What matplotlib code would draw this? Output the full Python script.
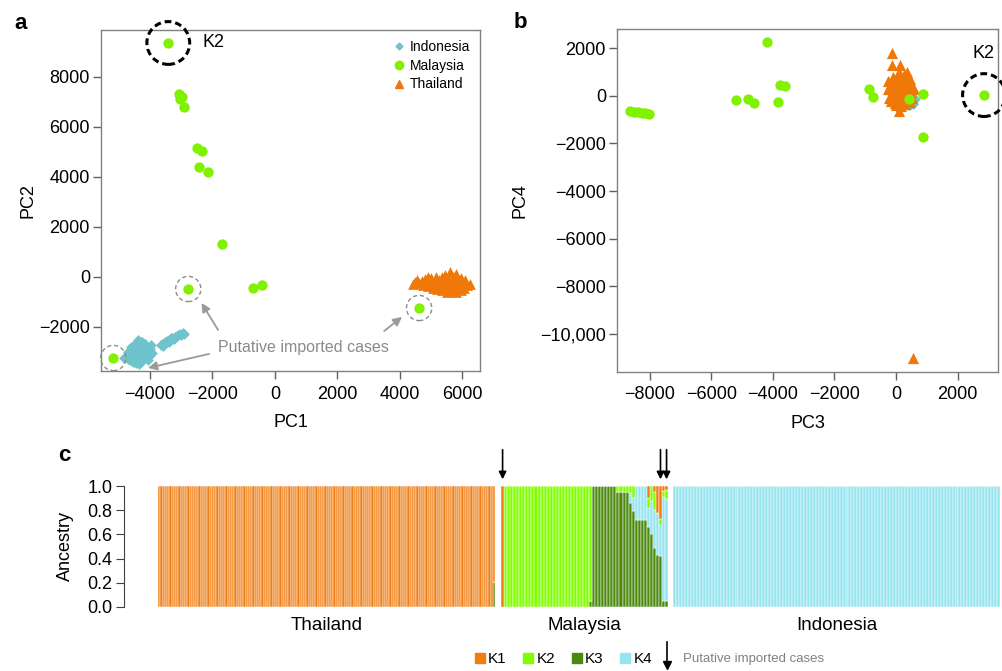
import matplotlib
matplotlib.use('Agg')
import matplotlib.pyplot as plt
from matplotlib.lines import Line2D
from matplotlib.ticker import FuncFormatter

plt.rcParams['font.family'] = ['Liberation Sans', 'DejaVu Sans']

# colours
c_ind = '#6EC3CC'
c_mal = '#80F200'
c_tha = '#F07808'
k_cols = ['#F07D12', '#80FF00', '#4B8A0E', '#95E4EF']

# ---- panel a: PC1 / PC2 ----
ind_pc1 = [-4820, -4750, -4700, -4650, -4600, -4550, -4500, -4500, -4450, -4400, -4400, -4350,
           -4350, -4300, -4300, -4250, -4250, -4200, -4200, -4150, -4150, -4100, -4050, -4000,
           -3950, -4380, -4300, -4480, -4600, -4700, -4650, -4550, -4100, -4000, -4450, -4350,
           -4250, -4150, -4050, -4500, -4400, -4300, -4200, -3980, -4700, -4600,
           -3640, -3600, -3560, -3520, -3480, -3440, -3400, -3360, -3320, -3280, -3200, -3150,
           -3100, -3050, -3000, -2950, -2900, -3580, -3380, -3240]
ind_pc2 = [-3250, -3150, -3300, -3050, -3200, -2950, -3100, -3350, -2800, -3000, -3250, -2650,
           -2900, -3150, -3400, -2750, -3000, -2850, -3250, -2950, -3100, -2800, -3000, -2900,
           -3050, -2550, -2600, -2700, -2900, -3000, -3350, -3400, -3200, -3150, -3450, -3480,
           -2600, -2700, -3350, -3300, -2700, -2800, -3100, -2750, -3150, -2800,
           -2730, -2680, -2700, -2620, -2600, -2560, -2520, -2550, -2470, -2440, -2400, -2380,
           -2330, -2300, -2330, -2260, -2280, -2760, -2600, -2480]

mal_pc1 = [-3414, -3062, -2966, -3030, -2902, -2486, -2326, -2422, -2134, -1686, -694, -406,
           -2774, 4618, -5174]
mal_pc2 = [9348, 7308, 7188, 7108, 6788, 5148, 5028, 4388, 4188, 1308, -452, -332,
           -492, -1252, -3252]

tha_pc1 = [4420, 4500, 4560, 4620, 4700, 4750, 4800, 4850, 4900, 4950, 5000, 5000, 5050, 5100,
           5150, 5150, 5200, 5250, 5300, 5350, 5350, 5400, 5450, 5450, 5500, 5550, 5600, 5600,
           5650, 5700, 5700, 5750, 5800, 5800, 5850, 5900, 5950, 5950, 6000, 6050, 6100, 6150,
           6250, 5250, 4900, 5550]
tha_pc2 = [-280, -200, -120, -250, -180, -320, -100, -250, -380, -150, -50, -300, -450, -200,
           -30, -350, -500, -150, -400, -20, -550, -250, 60, -450, -600, -150, -350, 190,
           -550, 0, -250, -450, 100, -600, -150, -350, -50, -550, -250, -450, -150, -350,
           -300, -300, -30, -450]

# ---- panel b: PC3 / PC4 ----
ind_pc3 = [250, 300, 350, 400, 450, 500, 550, 600, 500, 420, 380, 560]
ind_pc4 = [-200, -300, -350, -250, -400, -300, -200, -150, -100, -150, -400, -350]

mal_pc3 = [-8627, -8519, -8389, -8248, -8140, -8021, -4194, -5211, -4821, -4605, -3838, -3784,
           -3600, -865, -735, 886, 886, 2854, 432]
mal_pc4 = [-629, -671, -699, -713, -741, -769, 2266, -182, -154, -322, -252, 448,
           406, 280, -42, 56, -1720, 28, -154]

tha_pc3 = [-119, -119, 130, 368, 97, 562, -250, -200, -180, -150, -100, -80, -50, -30, 0, 20,
           50, 60, 80, 100, 120, 150, 180, 200, 220, 250, 270, 300, 320, 350, 380, 400, 420,
           450, 480, 500, 520, -220, -260, 0, 150, 300, 100, -150, 200, 350, 250, -50, 450, 580]
tha_pc4 = [1777, 1287, 1287, 1007, -643, -11024, 600, 300, 0, -200, 800, 450, 150, -300, 650,
           350, 0, -150, 900, 500, 200, -300, 700, 400, 50, -200, 850, 550, 250, -100, 650,
           300, 0, -250, 500, 150, -100, -100, 300, -400, -450, -350, 1000, 500, -50, 100,
           750, -100, 700, 300]

# ---- panel c: ancestry proportions (K1..K4) ----
groups = ['Thailand', 'Malaysia', 'Indonesia']
tha_k1 = [1.0] * 149 + [0.79]
tha_k2 = [0.0] * 150
tha_k3 = [0.0] * 149 + [0.21]
tha_k4 = [0.0] * 150

mal_k1 = [1.0] + [0] * 29 + [0] * 8 + [0] * 4 + [0, 0] + [0] * 4 + [0.10, 0.0, 0.05, 0.22, 0.27, 0.04, 0.03]
mal_k2 = [0] + [1.0] * 28 + [0.95] + [0] * 8 + [0.05] * 4 + [0.06, 0.10] + [0] * 4 + [0.08, 0.12, 0.15, 0.0, 0.05, 0.05, 0.08]
mal_k3 = [0] + [0] * 28 + [0.05] + [1.0] * 8 + [0.95] * 4 + [0.86, 0.79] + [0.72] * 4 + [0.66, 0.60, 0.49, 0.43, 0.42, 0.05, 0.05]
mal_k4 = [0] + [0] * 29 + [0] * 8 + [0] * 4 + [0.08, 0.11] + [0.28] * 4 + [0.16, 0.28, 0.31, 0.35, 0.26, 0.86, 0.84]

ind_k1 = [0.0] * 110
ind_k2 = [0.0] * 110
ind_k3 = [0.0] * 110
ind_k4 = [1.0] * 110

imported_mal = [0, 52, 54]  # putative imported cases (Malaysia bar indices)


def fmt(v, pos):
    s = f'{int(round(v)):,}' if abs(v) >= 10000 else f'{int(round(v))}'
    return s.replace('-', '\u2212')


fig = plt.figure(figsize=(10.02, 6.71), dpi=100)


def style_pc(ax):
    for sp in ax.spines.values():
        sp.set_color('#808080')
        sp.set_linewidth(1.0)
    ax.tick_params(direction='out', length=5.5, width=1, color='#606060', labelsize=13)
    ax.tick_params(axis='x', pad=5)
    ax.tick_params(axis='y', pad=2.5)
    ax.xaxis.set_major_formatter(FuncFormatter(fmt))
    ax.yaxis.set_major_formatter(FuncFormatter(fmt))


# panel a
axa = fig.add_axes([0.1008, 0.4471, 0.3782, 0.5082])
axa.scatter(ind_pc1, ind_pc2, marker='D', s=30, color=c_ind, lw=0, zorder=2)
axa.scatter(tha_pc1, tha_pc2, marker='^', s=60, color=c_tha, lw=0, zorder=2)
axa.scatter(mal_pc1, mal_pc2, marker='o', s=55, color=c_mal, lw=0, zorder=3)
axa.set_xlim(-5568, 6566)
axa.set_ylim(-3772, 9868)
axa.set_xticks(range(-4000, 6001, 2000))
axa.set_yticks(range(-2000, 8001, 2000))
style_pc(axa)
axa.set_xlabel('PC1', fontsize=13)
axa.set_ylabel('PC2', fontsize=13)
axa.xaxis.set_label_coords(0.5, -0.125)
axa.yaxis.set_label_coords(-0.169, 0.5)

# K2 circle and label
axa.scatter([mal_pc1[0]], [mal_pc2[0]], s=950, facecolor='none', edgecolor='black',
            lw=2.2, linestyle=(0, (2.2, 1.3)), zorder=4, clip_on=False)
axa.text(-2330, mal_pc2[0], 'K2', fontsize=13, va='center', ha='left')
# putative imported cases
for i in [12, 13, 14]:
    axa.scatter([mal_pc1[i]], [mal_pc2[i]], s=330, facecolor='none', edgecolor='#8c8c8c',
                lw=1.0, linestyle=(0, (3, 2)), zorder=4, clip_on=False)
axa.text(900, -2850, 'Putative imported cases', fontsize=11.5, color='#8a8a8a',
         ha='center', va='center')
arr = dict(arrowstyle='-|>', color='#9a9a9a', lw=1.3, mutation_scale=13, shrinkA=0, shrinkB=0)
axa.annotate('', xy=(-2350, -1050), xytext=(-1820, -2130), arrowprops=arr)
axa.annotate('', xy=(-4060, -3650), xytext=(-2110, -3090), arrowprops=arr)
axa.annotate('', xy=(4070, -1610), xytext=(3500, -2170), arrowprops=arr)

handles = [Line2D([], [], ls='', marker='D', ms=3.5, color=c_ind),
           Line2D([], [], ls='', marker='o', ms=6, color=c_mal),
           Line2D([], [], ls='', marker='^', ms=6, color=c_tha)]
axa.legend(handles, ['Indonesia', 'Malaysia', 'Thailand'], loc='upper right', frameon=False,
           fontsize=10, handletextpad=0.15, labelspacing=0.35, borderaxespad=0.5,
           handlelength=1.2, borderpad=0.2)

# panel b
axb = fig.add_axes([0.6158, 0.446, 0.3805, 0.5107])
axb.scatter(ind_pc3, ind_pc4, marker='D', s=30, color=c_ind, lw=0, zorder=2)
axb.scatter(tha_pc3, tha_pc4, marker='^', s=65, color=c_tha, lw=0, zorder=2)
axb.scatter(mal_pc3, mal_pc4, marker='o', s=55, color=c_mal, lw=0, zorder=3)
axb.set_xlim(-9058, 3318)
axb.set_ylim(-11580, 2798)
axb.set_xticks(range(-8000, 2001, 2000))
axb.set_yticks(range(-10000, 2001, 2000))
style_pc(axb)
axb.set_xlabel('PC3', fontsize=13)
axb.set_ylabel('PC4', fontsize=13)
axb.xaxis.set_label_coords(0.5, -0.125)
axb.yaxis.set_label_coords(-0.231, 0.5)
axb.scatter([mal_pc3[17]], [mal_pc4[17]], s=950, facecolor='none', edgecolor='black',
            lw=2.2, linestyle=(0, (2.2, 1.3)), zorder=4, clip_on=False)
axb.text(mal_pc3[17] - 30, 1790, 'K2', fontsize=13, ha='center', va='center')

# panel c
axc = fig.add_axes([0.1238, 0.0954, 0.8743, 0.1803])
spans = [(34, 371), (377, 544), (549, 876)]
data_c = [(tha_k1, tha_k2, tha_k3, tha_k4),
          (mal_k1, mal_k2, mal_k3, mal_k4),
          (ind_k1, ind_k2, ind_k3, ind_k4)]
mal_x = []
for (x0, x1), ks, name in zip(spans, data_c, groups):
    n = len(ks[0])
    w = (x1 - x0) / n
    xs = [x0 + i * w for i in range(n)]
    if name == 'Malaysia':
        mal_x = [x + w / 2 for x in xs]
    bottom = [0.0] * n
    for k in [2, 3, 1, 0]:  # stacking order K3, K4, K2, K1
        axc.bar(xs, ks[k], width=w, bottom=bottom, align='edge', color=k_cols[k],
                edgecolor='white', linewidth=0.35)
        bottom = [b + v for b, v in zip(bottom, ks[k])]
    axc.text((x0 + x1) / 2, -0.15, name, ha='center', va='center', fontsize=13.5,
             transform=axc.transData)

for i in imported_mal:
    axc.annotate('', xy=(mal_x[i], 1.055), xytext=(mal_x[i], 1.3),
                 arrowprops=dict(arrowstyle='-|>', color='black', lw=1.2, mutation_scale=11,
                                 shrinkA=0, shrinkB=0), annotation_clip=False)

axc.set_xlim(0, 876)
axc.set_ylim(0, 1)
axc.set_yticks([0, 0.2, 0.4, 0.6, 0.8, 1.0])
axc.set_yticklabels(['0.0', '0.2', '0.4', '0.6', '0.8', '1.0'])
axc.set_xticks([])
for s in ['top', 'right', 'bottom']:
    axc.spines[s].set_visible(False)
axc.spines['left'].set_color('#404040')
axc.tick_params(axis='y', direction='out', length=5.5, color='#404040', labelsize=13, pad=3)
axc.set_ylabel('Ancestry', fontsize=13)
axc.yaxis.set_label_coords(-0.057, 0.5)

# bottom legend
kh = [Line2D([], [], ls='', marker='s', ms=7.5, color=c) for c in k_cols]
fig.legend(kh, ['K1', 'K2', 'K3', 'K4'], loc='center', bbox_to_anchor=(0.561, 0.018),
           ncol=4, frameon=False, fontsize=11, handletextpad=0.05, columnspacing=0.9,
           handlelength=1.0, borderpad=0)
fig.add_artist(plt.Line2D([0.6657, 0.6657], [1 - 642 / 671, 1 - 662 / 671], color='black', lw=1.2))
fig.add_artist(plt.Line2D([0.6657], [1 - 665 / 671], marker='v', ms=6, color='black', ls=''))
fig.text(0.6817, 1 - 659 / 671, 'Putative imported cases', fontsize=9.5, color='#808080',
         va='center', ha='left')

# panel letters
fig.text(0.014, 0.965, 'a', fontsize=16, fontweight='bold', va='center')
fig.text(0.513, 0.967, 'b', fontsize=16, fontweight='bold', va='center')
fig.text(0.058, 0.321, 'c', fontsize=16, fontweight='bold', va='center')

fig.savefig('out.png', dpi=100)
